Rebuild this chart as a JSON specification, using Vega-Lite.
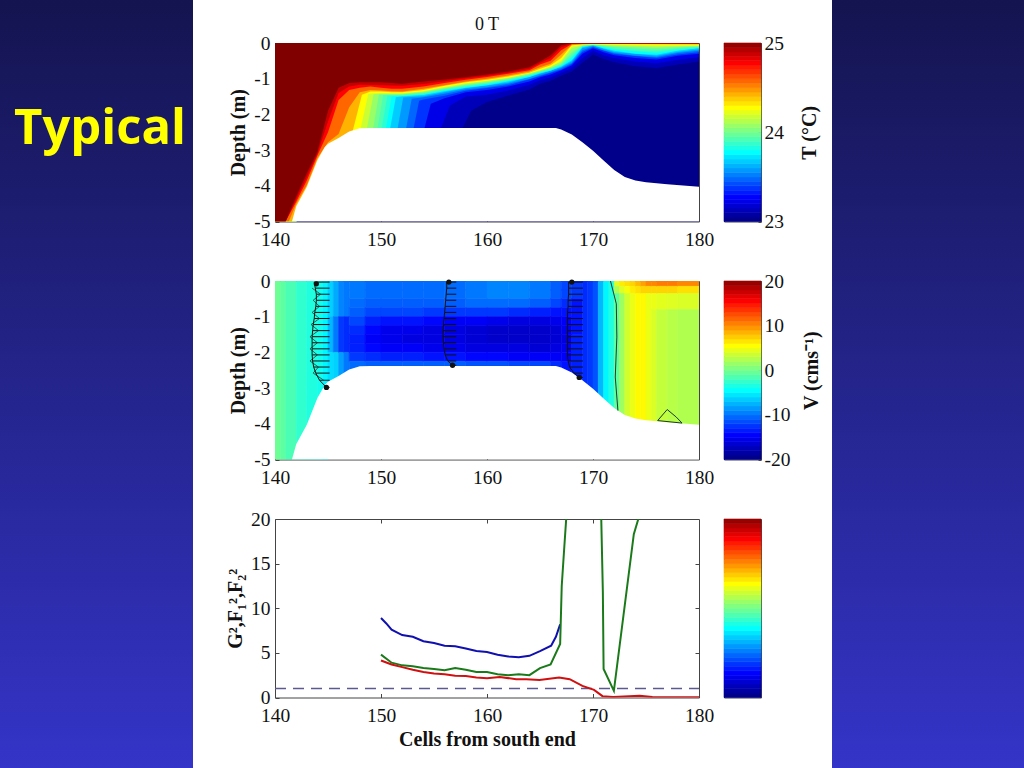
{"$schema":"https://vega.github.io/schema/vega-lite/v6.json","padding":0,"background":"white","spacing":0,
"config":{"view":{"stroke":null},"axis":{"grid":false,"labelFont":"Liberation Serif","labelFontSize":19.5,"labelColor":"#111","labelFlush":false,"labelOverlap":false,"titleFont":"Liberation Serif","titleFontSize":20,"titleFontWeight":"bold","titleColor":"#111","tickColor":"#444","domainColor":"#444","tickSize":-4,"labelPadding":9,"zindex":1},"title":{"font":"Liberation Serif","fontWeight":"normal","fontSize":18,"color":"#111"}},
"datasets":{
"contours":[
{"c":140,"L":23.1,"z":-5},{"c":142,"L":23.1,"z":-5},{"c":157.5,"L":23.1,"z":-2.5},{"c":158.5,"L":23.1,"z":-1.9},{"c":160,"L":23.1,"z":-1.65},{"c":162,"L":23.1,"z":-1.47},{"c":164,"L":23.1,"z":-1.3},{"c":165,"L":23.1,"z":-1.14},{"c":166,"L":23.1,"z":-1.06},{"c":167,"L":23.1,"z":-0.92},{"c":168,"L":23.1,"z":-0.8},{"c":169,"L":23.1,"z":-0.55},{"c":170,"L":23.1,"z":-0.32},{"c":171,"L":23.1,"z":-0.45},{"c":172,"L":23.1,"z":-0.54},{"c":174,"L":23.1,"z":-0.65},{"c":176,"L":23.1,"z":-0.7},{"c":178,"L":23.1,"z":-0.6},{"c":180,"L":23.1,"z":-0.52},
{"c":140,"L":23.2,"z":-5},{"c":142,"L":23.2,"z":-5},{"c":155.5,"L":23.2,"z":-2.5},{"c":156.5,"L":23.2,"z":-1.75},{"c":158,"L":23.2,"z":-1.5},{"c":160,"L":23.2,"z":-1.45},{"c":162,"L":23.2,"z":-1.33},{"c":164,"L":23.2,"z":-1.17},{"c":165,"L":23.2,"z":-1.04},{"c":166,"L":23.2,"z":-0.96},{"c":167,"L":23.2,"z":-0.83},{"c":168,"L":23.2,"z":-0.7},{"c":169,"L":23.2,"z":-0.42},{"c":170,"L":23.2,"z":-0.22},{"c":171,"L":23.2,"z":-0.34},{"c":172,"L":23.2,"z":-0.42},{"c":174,"L":23.2,"z":-0.52},{"c":176,"L":23.2,"z":-0.57},{"c":178,"L":23.2,"z":-0.47},{"c":180,"L":23.2,"z":-0.4},
{"c":140,"L":23.35,"z":-5},{"c":142,"L":23.35,"z":-5},{"c":154,"L":23.35,"z":-2.5},{"c":154.7,"L":23.35,"z":-1.7},{"c":156,"L":23.35,"z":-1.55},{"c":158,"L":23.35,"z":-1.38},{"c":160,"L":23.35,"z":-1.32},{"c":162,"L":23.35,"z":-1.22},{"c":164,"L":23.35,"z":-1.08},{"c":165,"L":23.35,"z":-0.96},{"c":166,"L":23.35,"z":-0.88},{"c":167,"L":23.35,"z":-0.76},{"c":168,"L":23.35,"z":-0.62},{"c":169,"L":23.35,"z":-0.3},{"c":170,"L":23.35,"z":-0.15},{"c":171,"L":23.35,"z":-0.26},{"c":172,"L":23.35,"z":-0.34},{"c":174,"L":23.35,"z":-0.42},{"c":176,"L":23.35,"z":-0.46},{"c":178,"L":23.35,"z":-0.36},{"c":180,"L":23.35,"z":-0.3},
{"c":140,"L":23.45,"z":-5},{"c":142,"L":23.45,"z":-5},{"c":153,"L":23.45,"z":-2.5},{"c":153.6,"L":23.45,"z":-1.62},{"c":154,"L":23.45,"z":-1.58},{"c":156,"L":23.45,"z":-1.48},{"c":158,"L":23.45,"z":-1.34},{"c":162,"L":23.45,"z":-1.18},{"c":165,"L":23.45,"z":-0.93},{"c":167,"L":23.45,"z":-0.74},{"c":168,"L":23.45,"z":-0.59},{"c":169,"L":23.45,"z":-0.25},{"c":170,"L":23.45,"z":-0.12},{"c":172,"L":23.45,"z":-0.31},{"c":176,"L":23.45,"z":-0.42},{"c":178,"L":23.45,"z":-0.32},{"c":180,"L":23.45,"z":-0.26},
{"c":140,"L":23.55,"z":-5},{"c":142,"L":23.55,"z":-5},{"c":152.3,"L":23.55,"z":-2.5},{"c":152.9,"L":23.55,"z":-1.56},{"c":154,"L":23.55,"z":-1.52},{"c":156,"L":23.55,"z":-1.42},{"c":158,"L":23.55,"z":-1.3},{"c":160,"L":23.55,"z":-1.24},{"c":162,"L":23.55,"z":-1.14},{"c":164,"L":23.55,"z":-1.01},{"c":165,"L":23.55,"z":-0.9},{"c":166,"L":23.55,"z":-0.82},{"c":167,"L":23.55,"z":-0.71},{"c":168,"L":23.55,"z":-0.56},{"c":169,"L":23.55,"z":-0.2},{"c":170,"L":23.55,"z":-0.1},{"c":171,"L":23.55,"z":-0.2},{"c":172,"L":23.55,"z":-0.28},{"c":174,"L":23.55,"z":-0.36},{"c":176,"L":23.55,"z":-0.39},{"c":178,"L":23.55,"z":-0.28},{"c":180,"L":23.55,"z":-0.22},
{"c":140,"L":23.65,"z":-5},{"c":142,"L":23.65,"z":-5},{"c":151.5,"L":23.65,"z":-2.5},{"c":152.1,"L":23.65,"z":-1.53},{"c":154,"L":23.65,"z":-1.49},{"c":156,"L":23.65,"z":-1.38},{"c":158,"L":23.65,"z":-1.27},{"c":162,"L":23.65,"z":-1.11},{"c":165,"L":23.65,"z":-0.87},{"c":167,"L":23.65,"z":-0.68},{"c":168,"L":23.65,"z":-0.52},{"c":169,"L":23.65,"z":-0.15},{"c":170,"L":23.65,"z":-0.08},{"c":172,"L":23.65,"z":-0.25},{"c":176,"L":23.65,"z":-0.36},{"c":178,"L":23.65,"z":-0.25},{"c":180,"L":23.65,"z":-0.18},
{"c":140,"L":23.75,"z":-5},{"c":142,"L":23.75,"z":-5},{"c":150.8,"L":23.75,"z":-2.5},{"c":151.4,"L":23.75,"z":-1.52},{"c":152,"L":23.75,"z":-1.5},{"c":154,"L":23.75,"z":-1.46},{"c":156,"L":23.75,"z":-1.35},{"c":158,"L":23.75,"z":-1.25},{"c":160,"L":23.75,"z":-1.18},{"c":162,"L":23.75,"z":-1.08},{"c":164,"L":23.75,"z":-0.95},{"c":165,"L":23.75,"z":-0.85},{"c":166,"L":23.75,"z":-0.78},{"c":167,"L":23.75,"z":-0.66},{"c":168,"L":23.75,"z":-0.48},{"c":169,"L":23.75,"z":-0.12},{"c":170,"L":23.75,"z":-0.06},{"c":171,"L":23.75,"z":-0.15},{"c":172,"L":23.75,"z":-0.22},{"c":174,"L":23.75,"z":-0.3},{"c":176,"L":23.75,"z":-0.33},{"c":178,"L":23.75,"z":-0.22},{"c":180,"L":23.75,"z":-0.15},
{"c":140,"L":23.83,"z":-5},{"c":142,"L":23.83,"z":-5},{"c":150.4,"L":23.83,"z":-2.5},{"c":151,"L":23.83,"z":-1.5},{"c":154,"L":23.83,"z":-1.44},{"c":156,"L":23.83,"z":-1.33},{"c":158,"L":23.83,"z":-1.23},{"c":162,"L":23.83,"z":-1.06},{"c":165,"L":23.83,"z":-0.83},{"c":167,"L":23.83,"z":-0.64},{"c":168,"L":23.83,"z":-0.43},{"c":169,"L":23.83,"z":-0.1},{"c":170,"L":23.83,"z":-0.055},{"c":172,"L":23.83,"z":-0.19},{"c":176,"L":23.83,"z":-0.28},{"c":178,"L":23.83,"z":-0.2},{"c":180,"L":23.83,"z":-0.13},
{"c":140,"L":23.9,"z":-5},{"c":142,"L":23.9,"z":-5},{"c":150,"L":23.9,"z":-2.5},{"c":150.6,"L":23.9,"z":-1.48},{"c":152,"L":23.9,"z":-1.48},{"c":154,"L":23.9,"z":-1.42},{"c":156,"L":23.9,"z":-1.31},{"c":158,"L":23.9,"z":-1.21},{"c":160,"L":23.9,"z":-1.14},{"c":162,"L":23.9,"z":-1.04},{"c":164,"L":23.9,"z":-0.92},{"c":165,"L":23.9,"z":-0.82},{"c":166,"L":23.9,"z":-0.75},{"c":167,"L":23.9,"z":-0.62},{"c":168,"L":23.9,"z":-0.38},{"c":169,"L":23.9,"z":-0.09},{"c":170,"L":23.9,"z":-0.05},{"c":172,"L":23.9,"z":-0.16},{"c":174,"L":23.9,"z":-0.22},{"c":176,"L":23.9,"z":-0.24},{"c":178,"L":23.9,"z":-0.17},{"c":180,"L":23.9,"z":-0.12},
{"c":140,"L":23.97,"z":-5},{"c":142,"L":23.97,"z":-5},{"c":149.6,"L":23.97,"z":-2.5},{"c":150.2,"L":23.97,"z":-1.46},{"c":154,"L":23.97,"z":-1.4},{"c":156,"L":23.97,"z":-1.29},{"c":158,"L":23.97,"z":-1.19},{"c":162,"L":23.97,"z":-1.02},{"c":165,"L":23.97,"z":-0.8},{"c":167,"L":23.97,"z":-0.6},{"c":168,"L":23.97,"z":-0.31},{"c":169,"L":23.97,"z":-0.08},{"c":170,"L":23.97,"z":-0.045},{"c":172,"L":23.97,"z":-0.12},{"c":176,"L":23.97,"z":-0.19},{"c":178,"L":23.97,"z":-0.14},{"c":180,"L":23.97,"z":-0.1},
{"c":140,"L":24.05,"z":-5},{"c":142,"L":24.05,"z":-5},{"c":149.2,"L":24.05,"z":-2.5},{"c":149.8,"L":24.05,"z":-1.44},{"c":151,"L":24.05,"z":-1.44},{"c":152,"L":24.05,"z":-1.44},{"c":154,"L":24.05,"z":-1.38},{"c":156,"L":24.05,"z":-1.27},{"c":158,"L":24.05,"z":-1.17},{"c":160,"L":24.05,"z":-1.1},{"c":162,"L":24.05,"z":-1},{"c":164,"L":24.05,"z":-0.88},{"c":165,"L":24.05,"z":-0.79},{"c":166,"L":24.05,"z":-0.71},{"c":167,"L":24.05,"z":-0.57},{"c":168,"L":24.05,"z":-0.25},{"c":169,"L":24.05,"z":-0.07},{"c":170,"L":24.05,"z":-0.04},{"c":172,"L":24.05,"z":-0.09},{"c":174,"L":24.05,"z":-0.12},{"c":176,"L":24.05,"z":-0.14},{"c":178,"L":24.05,"z":-0.11},{"c":180,"L":24.05,"z":-0.09},
{"c":140,"L":24.15,"z":-5},{"c":142,"L":24.15,"z":-5},{"c":148.6,"L":24.15,"z":-2.5},{"c":149.3,"L":24.15,"z":-1.43},{"c":152,"L":24.15,"z":-1.42},{"c":154,"L":24.15,"z":-1.36},{"c":156,"L":24.15,"z":-1.25},{"c":158,"L":24.15,"z":-1.15},{"c":162,"L":24.15,"z":-0.98},{"c":165,"L":24.15,"z":-0.77},{"c":167,"L":24.15,"z":-0.53},{"c":168,"L":24.15,"z":-0.15},{"c":169,"L":24.15,"z":-0.06},{"c":170,"L":24.15,"z":-0.04},{"c":172,"L":24.15,"z":-0.07},{"c":176,"L":24.15,"z":-0.1},{"c":180,"L":24.15,"z":-0.08},
{"c":140,"L":24.25,"z":-5},{"c":142,"L":24.25,"z":-5},{"c":148,"L":24.25,"z":-2.5},{"c":148.8,"L":24.25,"z":-1.42},{"c":150,"L":24.25,"z":-1.4},{"c":151,"L":24.25,"z":-1.41},{"c":152,"L":24.25,"z":-1.41},{"c":154,"L":24.25,"z":-1.35},{"c":156,"L":24.25,"z":-1.23},{"c":158,"L":24.25,"z":-1.13},{"c":160,"L":24.25,"z":-1.06},{"c":162,"L":24.25,"z":-0.97},{"c":164,"L":24.25,"z":-0.85},{"c":165,"L":24.25,"z":-0.76},{"c":166,"L":24.25,"z":-0.67},{"c":167,"L":24.25,"z":-0.5},{"c":168,"L":24.25,"z":-0.1},{"c":169,"L":24.25,"z":-0.05},{"c":170,"L":24.25,"z":-0.035},{"c":172,"L":24.25,"z":-0.05},{"c":174,"L":24.25,"z":-0.06},{"c":176,"L":24.25,"z":-0.07},{"c":178,"L":24.25,"z":-0.07},{"c":180,"L":24.25,"z":-0.07},
{"c":140,"L":24.4,"z":-5},{"c":142,"L":24.4,"z":-5},{"c":147.3,"L":24.4,"z":-2.5},{"c":148.2,"L":24.4,"z":-1.45},{"c":149,"L":24.4,"z":-1.36},{"c":150,"L":24.4,"z":-1.36},{"c":151,"L":24.4,"z":-1.38},{"c":152,"L":24.4,"z":-1.38},{"c":154,"L":24.4,"z":-1.32},{"c":156,"L":24.4,"z":-1.2},{"c":158,"L":24.4,"z":-1.1},{"c":160,"L":24.4,"z":-1.03},{"c":162,"L":24.4,"z":-0.94},{"c":164,"L":24.4,"z":-0.83},{"c":165,"L":24.4,"z":-0.72},{"c":166,"L":24.4,"z":-0.62},{"c":167,"L":24.4,"z":-0.42},{"c":168,"L":24.4,"z":-0.06},{"c":169,"L":24.4,"z":-0.04},{"c":170,"L":24.4,"z":-0.03},{"c":180,"L":24.4,"z":-0.04},
{"c":140,"L":24.55,"z":-5},{"c":141.3,"L":24.55,"z":-5},{"c":142,"L":24.55,"z":-4.5},{"c":143,"L":24.55,"z":-3.98},{"c":144,"L":24.55,"z":-3.22},{"c":145,"L":24.55,"z":-2.78},{"c":146,"L":24.55,"z":-2.55},{"c":147,"L":24.55,"z":-1.8},{"c":148,"L":24.55,"z":-1.38},{"c":149,"L":24.55,"z":-1.32},{"c":150,"L":24.55,"z":-1.33},{"c":151,"L":24.55,"z":-1.35},{"c":152,"L":24.55,"z":-1.36},{"c":154,"L":24.55,"z":-1.28},{"c":156,"L":24.55,"z":-1.18},{"c":158,"L":24.55,"z":-1.08},{"c":160,"L":24.55,"z":-1},{"c":162,"L":24.55,"z":-0.91},{"c":164,"L":24.55,"z":-0.8},{"c":165,"L":24.55,"z":-0.68},{"c":166,"L":24.55,"z":-0.58},{"c":167,"L":24.55,"z":-0.32},{"c":168,"L":24.55,"z":-0.05},{"c":169,"L":24.55,"z":-0.03},{"c":180,"L":24.55,"z":-0.03},
{"c":140,"L":24.75,"z":-5},{"c":141,"L":24.75,"z":-5},{"c":142,"L":24.75,"z":-4.45},{"c":143,"L":24.75,"z":-3.85},{"c":144,"L":24.75,"z":-3.15},{"c":145,"L":24.75,"z":-2.5},{"c":146,"L":24.75,"z":-1.6},{"c":147,"L":24.75,"z":-1.32},{"c":148,"L":24.75,"z":-1.25},{"c":149,"L":24.75,"z":-1.22},{"c":150,"L":24.75,"z":-1.25},{"c":151,"L":24.75,"z":-1.28},{"c":152,"L":24.75,"z":-1.28},{"c":154,"L":24.75,"z":-1.22},{"c":156,"L":24.75,"z":-1.12},{"c":158,"L":24.75,"z":-1.03},{"c":160,"L":24.75,"z":-0.95},{"c":162,"L":24.75,"z":-0.86},{"c":164,"L":24.75,"z":-0.76},{"c":165,"L":24.75,"z":-0.6},{"c":166,"L":24.75,"z":-0.5},{"c":167,"L":24.75,"z":-0.2},{"c":168,"L":24.75,"z":-0.03},{"c":169,"L":24.75,"z":-0.02},{"c":180,"L":24.75,"z":-0.02},
{"c":140,"L":24.87,"z":-5},{"c":141,"L":24.87,"z":-5},{"c":142,"L":24.87,"z":-4.37},{"c":143,"L":24.87,"z":-3.75},{"c":144,"L":24.87,"z":-3.1},{"c":145,"L":24.87,"z":-2.2},{"c":146,"L":24.87,"z":-1.4},{"c":147,"L":24.87,"z":-1.22},{"c":148,"L":24.87,"z":-1.17},{"c":150,"L":24.87,"z":-1.18},{"c":152,"L":24.87,"z":-1.2},{"c":154,"L":24.87,"z":-1.15},{"c":156,"L":24.87,"z":-1.07},{"c":158,"L":24.87,"z":-0.99},{"c":160,"L":24.87,"z":-0.92},{"c":162,"L":24.87,"z":-0.83},{"c":164,"L":24.87,"z":-0.72},{"c":165,"L":24.87,"z":-0.56},{"c":166,"L":24.87,"z":-0.42},{"c":167,"L":24.87,"z":-0.12},{"c":168,"L":24.87,"z":-0.02},{"c":180,"L":24.87,"z":-0.015},
{"c":140,"L":25,"z":-5},{"c":141,"L":25,"z":-5},{"c":142,"L":25,"z":-4.3},{"c":143,"L":25,"z":-3.65},{"c":144,"L":25,"z":-3.05},{"c":145,"L":25,"z":-1.9},{"c":146,"L":25,"z":-1.25},{"c":147,"L":25,"z":-1.12},{"c":148,"L":25,"z":-1.1},{"c":150,"L":25,"z":-1.1},{"c":152,"L":25,"z":-1.14},{"c":154,"L":25,"z":-1.08},{"c":156,"L":25,"z":-1.02},{"c":158,"L":25,"z":-0.96},{"c":160,"L":25,"z":-0.88},{"c":162,"L":25,"z":-0.8},{"c":164,"L":25,"z":-0.68},{"c":165,"L":25,"z":-0.52},{"c":166,"L":25,"z":-0.34},{"c":167,"L":25,"z":-0.06},{"c":168,"L":25,"z":-0.01},{"c":180,"L":25,"z":-0.01}
],
"bed":[{"c":141.6,"z":-5},{"c":142,"z":-4.57},{"c":143,"z":-4.03},{"c":144,"z":-3.28},{"c":144.7,"z":-2.91},{"c":145,"z":-2.82},{"c":146,"z":-2.66},{"c":147,"z":-2.48},{"c":148,"z":-2.39},{"c":149,"z":-2.38},{"c":166.5,"z":-2.38},{"c":167,"z":-2.42},{"c":168,"z":-2.56},{"c":169,"z":-2.78},{"c":170,"z":-3.02},{"c":171,"z":-3.29},{"c":172,"z":-3.56},{"c":173,"z":-3.75},{"c":174,"z":-3.85},{"c":175,"z":-3.9},{"c":177,"z":-3.96},{"c":180,"z":-4.03}],
"vgrid":[
{"c":140,"c2":140.5,"z":0,"z2":-5,"v":-1.5},{"c":140.5,"c2":141,"z":0,"z2":-5,"v":-2},{"c":141,"c2":142,"z":0,"z2":-5,"v":-2.8},{"c":142,"c2":143,"z":0,"z2":-5,"v":-3.8},{"c":143,"c2":144,"z":0,"z2":-5,"v":-4.5},{"c":144,"c2":144.5,"z":0,"z2":-5,"v":-5},{"c":144.5,"c2":145,"z":0,"z2":-5,"v":-6},
{"c":145,"c2":145.5,"z":0,"z2":-1,"v":-7.5},{"c":145,"c2":145.5,"z":-1,"z2":-2,"v":-8.5},{"c":145,"c2":145.5,"z":-2,"z2":-3,"v":-7},
{"c":145.5,"c2":146,"z":0,"z2":-1,"v":-9},{"c":145.5,"c2":146,"z":-1,"z2":-2,"v":-11},{"c":145.5,"c2":146,"z":-2,"z2":-3,"v":-7.5},
{"c":146,"c2":146.5,"z":0,"z2":-1,"v":-10.5},{"c":146,"c2":146.5,"z":-1,"z2":-2,"v":-13.5},{"c":146,"c2":146.5,"z":-2,"z2":-3,"v":-9.5},
{"c":146.5,"c2":147,"z":0,"z2":-1,"v":-11},{"c":146.5,"c2":147,"z":-1,"z2":-2,"v":-14},{"c":146.5,"c2":147,"z":-2,"z2":-3,"v":-11},
{"c":147,"c2":148.5,"z":0,"z2":-0.25,"v":-11},{"c":147,"c2":148.5,"z":-0.25,"z2":-0.5,"v":-11},{"c":147,"c2":148.5,"z":-0.5,"z2":-0.75,"v":-11.5},{"c":147,"c2":148.5,"z":-0.75,"z2":-1,"v":-12},{"c":147,"c2":148.5,"z":-1,"z2":-1.25,"v":-13},{"c":147,"c2":148.5,"z":-1.25,"z2":-1.5,"v":-14},{"c":147,"c2":148.5,"z":-1.5,"z2":-1.75,"v":-14.5},{"c":147,"c2":148.5,"z":-1.75,"z2":-2,"v":-14.5},{"c":147,"c2":148.5,"z":-2,"z2":-2.25,"v":-13.5},{"c":147,"c2":148.5,"z":-2.25,"z2":-2.6,"v":-11.5},
{"c":148.5,"c2":150,"z":0,"z2":-0.25,"v":-11.5},{"c":148.5,"c2":150,"z":-0.25,"z2":-0.5,"v":-11.5},{"c":148.5,"c2":150,"z":-0.5,"z2":-0.75,"v":-12},{"c":148.5,"c2":150,"z":-0.75,"z2":-1,"v":-13},{"c":148.5,"c2":150,"z":-1,"z2":-1.25,"v":-14.5},{"c":148.5,"c2":150,"z":-1.25,"z2":-1.5,"v":-15.5},{"c":148.5,"c2":150,"z":-1.5,"z2":-1.75,"v":-16},{"c":148.5,"c2":150,"z":-1.75,"z2":-2,"v":-15.5},{"c":148.5,"c2":150,"z":-2,"z2":-2.25,"v":-14},{"c":148.5,"c2":150,"z":-2.25,"z2":-2.6,"v":-12},
{"c":150,"c2":152,"z":0,"z2":-0.25,"v":-11.5},{"c":150,"c2":152,"z":-0.25,"z2":-0.5,"v":-11.5},{"c":150,"c2":152,"z":-0.5,"z2":-0.75,"v":-12},{"c":150,"c2":152,"z":-0.75,"z2":-1,"v":-13},{"c":150,"c2":152,"z":-1,"z2":-1.25,"v":-15},{"c":150,"c2":152,"z":-1.25,"z2":-1.5,"v":-16.5},{"c":150,"c2":152,"z":-1.5,"z2":-1.75,"v":-16.5},{"c":150,"c2":152,"z":-1.75,"z2":-2,"v":-16},{"c":150,"c2":152,"z":-2,"z2":-2.25,"v":-14.5},{"c":150,"c2":152,"z":-2.25,"z2":-2.6,"v":-12},
{"c":152,"c2":154,"z":0,"z2":-0.25,"v":-11.5},{"c":152,"c2":154,"z":-0.25,"z2":-0.5,"v":-11.5},{"c":152,"c2":154,"z":-0.5,"z2":-0.75,"v":-12},{"c":152,"c2":154,"z":-0.75,"z2":-1,"v":-13},{"c":152,"c2":154,"z":-1,"z2":-1.25,"v":-15},{"c":152,"c2":154,"z":-1.25,"z2":-1.5,"v":-16.5},{"c":152,"c2":154,"z":-1.5,"z2":-1.75,"v":-17},{"c":152,"c2":154,"z":-1.75,"z2":-2,"v":-16},{"c":152,"c2":154,"z":-2,"z2":-2.25,"v":-14.5},{"c":152,"c2":154,"z":-2.25,"z2":-2.6,"v":-12},
{"c":154,"c2":156,"z":0,"z2":-0.25,"v":-11.5},{"c":154,"c2":156,"z":-0.25,"z2":-0.5,"v":-11.5},{"c":154,"c2":156,"z":-0.5,"z2":-0.75,"v":-12},{"c":154,"c2":156,"z":-0.75,"z2":-1,"v":-13.5},{"c":154,"c2":156,"z":-1,"z2":-1.25,"v":-15.5},{"c":154,"c2":156,"z":-1.25,"z2":-1.5,"v":-17},{"c":154,"c2":156,"z":-1.5,"z2":-1.75,"v":-17},{"c":154,"c2":156,"z":-1.75,"z2":-2,"v":-16.5},{"c":154,"c2":156,"z":-2,"z2":-2.25,"v":-15},{"c":154,"c2":156,"z":-2.25,"z2":-2.6,"v":-12},
{"c":156,"c2":158,"z":0,"z2":-0.25,"v":-11.5},{"c":156,"c2":158,"z":-0.25,"z2":-0.5,"v":-11.5},{"c":156,"c2":158,"z":-0.5,"z2":-0.75,"v":-12},{"c":156,"c2":158,"z":-0.75,"z2":-1,"v":-13.5},{"c":156,"c2":158,"z":-1,"z2":-1.25,"v":-16},{"c":156,"c2":158,"z":-1.25,"z2":-1.5,"v":-17},{"c":156,"c2":158,"z":-1.5,"z2":-1.75,"v":-17},{"c":156,"c2":158,"z":-1.75,"z2":-2,"v":-16.5},{"c":156,"c2":158,"z":-2,"z2":-2.25,"v":-15},{"c":156,"c2":158,"z":-2.25,"z2":-2.6,"v":-12},
{"c":158,"c2":160,"z":0,"z2":-0.25,"v":-11},{"c":158,"c2":160,"z":-0.25,"z2":-0.5,"v":-11},{"c":158,"c2":160,"z":-0.5,"z2":-0.75,"v":-11.5},{"c":158,"c2":160,"z":-0.75,"z2":-1,"v":-13.5},{"c":158,"c2":160,"z":-1,"z2":-1.25,"v":-16},{"c":158,"c2":160,"z":-1.25,"z2":-1.5,"v":-17.5},{"c":158,"c2":160,"z":-1.5,"z2":-1.75,"v":-17.5},{"c":158,"c2":160,"z":-1.75,"z2":-2,"v":-17},{"c":158,"c2":160,"z":-2,"z2":-2.25,"v":-15.5},{"c":158,"c2":160,"z":-2.25,"z2":-2.6,"v":-12.5},
{"c":160,"c2":162,"z":0,"z2":-0.25,"v":-10.5},{"c":160,"c2":162,"z":-0.25,"z2":-0.5,"v":-10.5},{"c":160,"c2":162,"z":-0.5,"z2":-0.75,"v":-11.5},{"c":160,"c2":162,"z":-0.75,"z2":-1,"v":-13.5},{"c":160,"c2":162,"z":-1,"z2":-1.25,"v":-16.5},{"c":160,"c2":162,"z":-1.25,"z2":-1.5,"v":-18},{"c":160,"c2":162,"z":-1.5,"z2":-1.75,"v":-18},{"c":160,"c2":162,"z":-1.75,"z2":-2,"v":-17},{"c":160,"c2":162,"z":-2,"z2":-2.25,"v":-15.5},{"c":160,"c2":162,"z":-2.25,"z2":-2.6,"v":-12.5},
{"c":162,"c2":164,"z":0,"z2":-0.25,"v":-10.5},{"c":162,"c2":164,"z":-0.25,"z2":-0.5,"v":-10.5},{"c":162,"c2":164,"z":-0.5,"z2":-0.75,"v":-11.5},{"c":162,"c2":164,"z":-0.75,"z2":-1,"v":-14},{"c":162,"c2":164,"z":-1,"z2":-1.25,"v":-17},{"c":162,"c2":164,"z":-1.25,"z2":-1.5,"v":-18},{"c":162,"c2":164,"z":-1.5,"z2":-1.75,"v":-18},{"c":162,"c2":164,"z":-1.75,"z2":-2,"v":-17},{"c":162,"c2":164,"z":-2,"z2":-2.25,"v":-16},{"c":162,"c2":164,"z":-2.25,"z2":-2.6,"v":-13},
{"c":164,"c2":166,"z":0,"z2":-0.25,"v":-11},{"c":164,"c2":166,"z":-0.25,"z2":-0.5,"v":-11},{"c":164,"c2":166,"z":-0.5,"z2":-0.75,"v":-12},{"c":164,"c2":166,"z":-0.75,"z2":-1,"v":-14.5},{"c":164,"c2":166,"z":-1,"z2":-1.25,"v":-17},{"c":164,"c2":166,"z":-1.25,"z2":-1.5,"v":-18},{"c":164,"c2":166,"z":-1.5,"z2":-1.75,"v":-18},{"c":164,"c2":166,"z":-1.75,"z2":-2,"v":-17.5},{"c":164,"c2":166,"z":-2,"z2":-2.25,"v":-16},{"c":164,"c2":166,"z":-2.25,"z2":-2.6,"v":-13},
{"c":166,"c2":167,"z":0,"z2":-0.25,"v":-12},{"c":166,"c2":167,"z":-0.25,"z2":-0.5,"v":-12},{"c":166,"c2":167,"z":-0.5,"z2":-0.75,"v":-13},{"c":166,"c2":167,"z":-0.75,"z2":-1,"v":-15},{"c":166,"c2":167,"z":-1,"z2":-1.25,"v":-16.5},{"c":166,"c2":167,"z":-1.25,"z2":-1.5,"v":-17.5},{"c":166,"c2":167,"z":-1.5,"z2":-1.75,"v":-17.5},{"c":166,"c2":167,"z":-1.75,"z2":-2,"v":-17},{"c":166,"c2":167,"z":-2,"z2":-2.25,"v":-16},{"c":166,"c2":167,"z":-2.25,"z2":-2.7,"v":-14},
{"c":167,"c2":168,"z":0,"z2":-0.25,"v":-13},{"c":167,"c2":168,"z":-0.25,"z2":-0.5,"v":-13},{"c":167,"c2":168,"z":-0.5,"z2":-0.75,"v":-14},{"c":167,"c2":168,"z":-0.75,"z2":-1,"v":-15},{"c":167,"c2":168,"z":-1,"z2":-1.25,"v":-16},{"c":167,"c2":168,"z":-1.25,"z2":-1.5,"v":-16.5},{"c":167,"c2":168,"z":-1.5,"z2":-1.75,"v":-17},{"c":167,"c2":168,"z":-1.75,"z2":-2,"v":-16.5},{"c":167,"c2":168,"z":-2,"z2":-2.25,"v":-16},{"c":167,"c2":168,"z":-2.25,"z2":-2.8,"v":-15},
{"c":168,"c2":169,"z":0,"z2":-0.5,"v":-13.5},{"c":168,"c2":169,"z":-0.5,"z2":-1.5,"v":-15},{"c":168,"c2":169,"z":-1.5,"z2":-3.5,"v":-14.5},
{"c":169,"c2":169.5,"z":0,"z2":-4.5,"v":-14},{"c":169.5,"c2":170,"z":0,"z2":-4.5,"v":-13.5},{"c":170,"c2":170.5,"z":0,"z2":-4.5,"v":-12.5},{"c":170.5,"c2":171,"z":0,"z2":-4.5,"v":-8.5},{"c":171,"c2":171.5,"z":0,"z2":-4.5,"v":-6},{"c":171.5,"c2":172,"z":0,"z2":-4.5,"v":-4.5},
{"c":172,"c2":172.5,"z":0,"z2":-0.15,"v":3},{"c":172,"c2":172.5,"z":-0.15,"z2":-0.35,"v":1},{"c":172,"c2":172.5,"z":-0.35,"z2":-4.5,"v":-2},
{"c":172.5,"c2":173,"z":0,"z2":-0.15,"v":5},{"c":172.5,"c2":173,"z":-0.15,"z2":-0.35,"v":3},{"c":172.5,"c2":173,"z":-0.35,"z2":-4.5,"v":0.5},
{"c":173,"c2":173.5,"z":0,"z2":-0.15,"v":5.5},{"c":173,"c2":173.5,"z":-0.15,"z2":-0.35,"v":4},{"c":173,"c2":173.5,"z":-0.35,"z2":-4.5,"v":2.5},
{"c":173.5,"c2":174,"z":0,"z2":-0.15,"v":6},{"c":173.5,"c2":174,"z":-0.15,"z2":-0.35,"v":5},{"c":173.5,"c2":174,"z":-0.35,"z2":-4.5,"v":3.5},
{"c":174,"c2":174.5,"z":0,"z2":-0.15,"v":7},{"c":174,"c2":174.5,"z":-0.15,"z2":-0.35,"v":5.5},{"c":174,"c2":174.5,"z":-0.35,"z2":-4.5,"v":4.5},
{"c":174.5,"c2":175,"z":0,"z2":-0.15,"v":8},{"c":174.5,"c2":175,"z":-0.15,"z2":-0.35,"v":6},{"c":174.5,"c2":175,"z":-0.35,"z2":-4.5,"v":4.5},
{"c":175,"c2":175.5,"z":0,"z2":-0.15,"v":9},{"c":175,"c2":175.5,"z":-0.15,"z2":-0.35,"v":6},{"c":175,"c2":175.5,"z":-0.35,"z2":-4.5,"v":3.5},
{"c":175.5,"c2":176,"z":0,"z2":-0.15,"v":9},{"c":175.5,"c2":176,"z":-0.15,"z2":-0.35,"v":6},{"c":175.5,"c2":176,"z":-0.35,"z2":-0.8,"v":3.5},{"c":175.5,"c2":176,"z":-0.8,"z2":-4.5,"v":2.8},
{"c":176,"c2":177,"z":0,"z2":-0.15,"v":9.5},{"c":176,"c2":177,"z":-0.15,"z2":-0.35,"v":6},{"c":176,"c2":177,"z":-0.35,"z2":-0.8,"v":3.2},{"c":176,"c2":177,"z":-0.8,"z2":-4.5,"v":2},
{"c":177,"c2":178,"z":0,"z2":-0.15,"v":9.5},{"c":177,"c2":178,"z":-0.15,"z2":-0.35,"v":6},{"c":177,"c2":178,"z":-0.35,"z2":-0.8,"v":3},{"c":177,"c2":178,"z":-0.8,"z2":-4.5,"v":1.5},
{"c":178,"c2":180,"z":0,"z2":-0.15,"v":9},{"c":178,"c2":180,"z":-0.15,"z2":-0.35,"v":5.5},{"c":178,"c2":180,"z":-0.35,"z2":-0.8,"v":2.8},{"c":178,"c2":180,"z":-0.8,"z2":-4.5,"v":1.2}
],
"stations":[
{"st":"a","c":143.7,"e":145.15,"z":-0.03},{"st":"a","c":143.8,"e":145.15,"z":-0.2},{"st":"a","c":143.9,"e":145.15,"z":-0.37},{"st":"a","c":143.9,"e":145.15,"z":-0.54},{"st":"a","c":143.85,"e":145.15,"z":-0.71},{"st":"a","c":143.75,"e":145.15,"z":-0.88},{"st":"a","c":143.7,"e":145.15,"z":-1.05},{"st":"a","c":143.6,"e":145.15,"z":-1.22},{"st":"a","c":143.55,"e":145.15,"z":-1.39},{"st":"a","c":143.5,"e":145.15,"z":-1.56},{"st":"a","c":143.5,"e":145.15,"z":-1.73},{"st":"a","c":143.5,"e":145.15,"z":-1.9},{"st":"a","c":143.5,"e":145.15,"z":-2.07},{"st":"a","c":143.55,"e":145.15,"z":-2.24},{"st":"a","c":143.65,"e":145.15,"z":-2.41},{"st":"a","c":143.85,"e":145.15,"z":-2.58},{"st":"a","c":144.2,"e":145.15,"z":-2.78},{"st":"a","c":144.85,"e":145.15,"z":-2.98},
{"st":"b","c":156.2,"e":157.1,"z":-0.03},{"st":"b","c":156.2,"e":157.1,"z":-0.2},{"st":"b","c":156.15,"e":157.1,"z":-0.37},{"st":"b","c":156.1,"e":157.1,"z":-0.54},{"st":"b","c":156.05,"e":157.1,"z":-0.71},{"st":"b","c":156,"e":157.1,"z":-0.88},{"st":"b","c":155.95,"e":157.1,"z":-1.05},{"st":"b","c":155.9,"e":157.1,"z":-1.22},{"st":"b","c":155.85,"e":157.1,"z":-1.39},{"st":"b","c":155.85,"e":157.1,"z":-1.56},{"st":"b","c":155.9,"e":157.1,"z":-1.73},{"st":"b","c":155.95,"e":157.1,"z":-1.9},{"st":"b","c":156.05,"e":157.1,"z":-2.07},{"st":"b","c":156.3,"e":157.1,"z":-2.24},{"st":"b","c":156.75,"e":157.1,"z":-2.36},
{"st":"d","c":167.7,"e":169.05,"z":-0.03},{"st":"d","c":167.7,"e":169.05,"z":-0.2},{"st":"d","c":167.7,"e":169.05,"z":-0.37},{"st":"d","c":167.65,"e":169.05,"z":-0.54},{"st":"d","c":167.65,"e":169.05,"z":-0.71},{"st":"d","c":167.6,"e":169.05,"z":-0.88},{"st":"d","c":167.6,"e":169.05,"z":-1.05},{"st":"d","c":167.6,"e":169.05,"z":-1.22},{"st":"d","c":167.6,"e":169.05,"z":-1.39},{"st":"d","c":167.6,"e":169.05,"z":-1.56},{"st":"d","c":167.6,"e":169.05,"z":-1.73},{"st":"d","c":167.6,"e":169.05,"z":-1.9},{"st":"d","c":167.6,"e":169.05,"z":-2.07},{"st":"d","c":167.65,"e":169.05,"z":-2.24},{"st":"d","c":167.8,"e":169.05,"z":-2.41},{"st":"d","c":168.2,"e":169.05,"z":-2.58},{"st":"d","c":168.7,"e":169.05,"z":-2.7}
],
"ends":[{"c":144.85,"z":-2.98},{"c":156.75,"z":-2.36},{"c":168.7,"z":-2.7},{"c":143.9,"z":-0.08},{"c":156.4,"z":-0.03},{"c":168,"z":-0.03}],
"zig":[{"c":143.5,"z":-0.2},{"c":144.3,"z":-0.37},{"c":143.6,"z":-0.54},{"c":144.2,"z":-0.71},{"c":143.5,"z":-0.88},{"c":144.2,"z":-1.05},{"c":143.4,"z":-1.22},{"c":144.1,"z":-1.39},{"c":143.3,"z":-1.56},{"c":144,"z":-1.73},{"c":143.3,"z":-1.9},{"c":144,"z":-2.07},{"c":143.3,"z":-2.24},{"c":144.1,"z":-2.41},{"c":143.6,"z":-2.58},{"c":144.6,"z":-2.78}],
"vlines":[
{"k":"a","o":1,"c":171.65,"z":0},{"k":"a","o":2,"c":172.2,"z":-0.64},{"k":"a","o":3,"c":172.25,"z":-1.57},{"k":"a","o":4,"c":172.1,"z":-2.69},{"k":"a","o":5,"c":172.35,"z":-3.63},
{"k":"b","o":1,"c":176.1,"z":-3.91},{"k":"b","o":2,"c":177,"z":-3.6},{"k":"b","o":3,"c":177.85,"z":-3.81},{"k":"b","o":4,"c":178.4,"z":-3.98},{"k":"b","o":5,"c":176.1,"z":-3.91}
],
"rampT":[{"v":23,"w":23.05},{"v":23.05,"w":23.1},{"v":23.1,"w":23.15},{"v":23.15,"w":23.2},{"v":23.2,"w":23.25},{"v":23.25,"w":23.3},{"v":23.3,"w":23.35},{"v":23.35,"w":23.4},{"v":23.4,"w":23.45},{"v":23.45,"w":23.5},{"v":23.5,"w":23.55},{"v":23.55,"w":23.6},{"v":23.6,"w":23.65},{"v":23.65,"w":23.7},{"v":23.7,"w":23.75},{"v":23.75,"w":23.8},{"v":23.8,"w":23.85},{"v":23.85,"w":23.9},{"v":23.9,"w":23.95},{"v":23.95,"w":24},{"v":24,"w":24.05},{"v":24.05,"w":24.1},{"v":24.1,"w":24.15},{"v":24.15,"w":24.2},{"v":24.2,"w":24.25},{"v":24.25,"w":24.3},{"v":24.3,"w":24.35},{"v":24.35,"w":24.4},{"v":24.4,"w":24.45},{"v":24.45,"w":24.5},{"v":24.5,"w":24.55},{"v":24.55,"w":24.6},{"v":24.6,"w":24.65},{"v":24.65,"w":24.7},{"v":24.7,"w":24.75},{"v":24.75,"w":24.8},{"v":24.8,"w":24.85},{"v":24.85,"w":24.9},{"v":24.9,"w":24.95},{"v":24.95,"w":25}],
"rampV":[{"v":-20,"w":-19},{"v":-19,"w":-18},{"v":-18,"w":-17},{"v":-17,"w":-16},{"v":-16,"w":-15},{"v":-15,"w":-14},{"v":-14,"w":-13},{"v":-13,"w":-12},{"v":-12,"w":-11},{"v":-11,"w":-10},{"v":-10,"w":-9},{"v":-9,"w":-8},{"v":-8,"w":-7},{"v":-7,"w":-6},{"v":-6,"w":-5},{"v":-5,"w":-4},{"v":-4,"w":-3},{"v":-3,"w":-2},{"v":-2,"w":-1},{"v":-1,"w":0},{"v":0,"w":1},{"v":1,"w":2},{"v":2,"w":3},{"v":3,"w":4},{"v":4,"w":5},{"v":5,"w":6},{"v":6,"w":7},{"v":7,"w":8},{"v":8,"w":9},{"v":9,"w":10},{"v":10,"w":11},{"v":11,"w":12},{"v":12,"w":13},{"v":13,"w":14},{"v":14,"w":15},{"v":15,"w":16},{"v":16,"w":17},{"v":17,"w":18},{"v":18,"w":19},{"v":19,"w":20}],
"series":[
{"s":"G","c":150,"y":8.9},{"s":"G","c":150.5,"y":8.3},{"s":"G","c":151,"y":7.6},{"s":"G","c":152,"y":7},{"s":"G","c":153,"y":6.8},{"s":"G","c":154,"y":6.3},{"s":"G","c":155,"y":6.1},{"s":"G","c":156,"y":5.8},{"s":"G","c":157,"y":5.75},{"s":"G","c":158,"y":5.5},{"s":"G","c":159,"y":5.2},{"s":"G","c":160,"y":5.1},{"s":"G","c":161,"y":4.8},{"s":"G","c":162,"y":4.6},{"s":"G","c":163,"y":4.5},{"s":"G","c":164,"y":4.67},{"s":"G","c":165,"y":5.2},{"s":"G","c":166.05,"y":5.8},{"s":"G","c":166.5,"y":6.8},{"s":"G","c":166.9,"y":8.2},
{"s":"F1","c":150,"y":4.8},{"s":"F1","c":151,"y":3.9},{"s":"F1","c":152,"y":3.6},{"s":"F1","c":153,"y":3.5},{"s":"F1","c":154,"y":3.3},{"s":"F1","c":155,"y":3.2},{"s":"F1","c":156,"y":3.05},{"s":"F1","c":157,"y":3.3},{"s":"F1","c":158,"y":3.1},{"s":"F1","c":159,"y":2.85},{"s":"F1","c":160,"y":2.85},{"s":"F1","c":161,"y":2.6},{"s":"F1","c":162,"y":2.5},{"s":"F1","c":163,"y":2.6},{"s":"F1","c":164,"y":2.5},{"s":"F1","c":165,"y":3.3},{"s":"F1","c":166,"y":3.7},{"s":"F1","c":166.9,"y":6},{"s":"F1","c":167.05,"y":12.5},{"s":"F1","c":167.3,"y":17},{"s":"F1","c":167.5,"y":20.5},{"s":"F1","c":170.77,"y":20.5},{"s":"F1","c":170.93,"y":11.8},{"s":"F1","c":171,"y":3.2},{"s":"F1","c":171.97,"y":0.75},{"s":"F1","c":173.85,"y":18.3},{"s":"F1","c":174.4,"y":20.5},
{"s":"F2","c":150,"y":4.15},{"s":"F2","c":151,"y":3.7},{"s":"F2","c":152,"y":3.4},{"s":"F2","c":153,"y":3.1},{"s":"F2","c":154,"y":2.85},{"s":"F2","c":155,"y":2.7},{"s":"F2","c":156,"y":2.6},{"s":"F2","c":157,"y":2.45},{"s":"F2","c":158,"y":2.4},{"s":"F2","c":159,"y":2.25},{"s":"F2","c":160,"y":2.15},{"s":"F2","c":161.2,"y":2.3},{"s":"F2","c":162.75,"y":2.05},{"s":"F2","c":163.7,"y":2.05},{"s":"F2","c":164.95,"y":1.95},{"s":"F2","c":166.8,"y":2.25},{"s":"F2","c":167.8,"y":2.05},{"s":"F2","c":169,"y":1.3},{"s":"F2","c":170.1,"y":0.85},{"s":"F2","c":170.9,"y":0.15},{"s":"F2","c":171.9,"y":0.07},{"s":"F2","c":174.4,"y":0.2},{"s":"F2","c":175.6,"y":0.05},{"s":"F2","c":180,"y":0.03}
]
},
"hconcat":[
{"width":225,"height":725,"data":{"values":[{"label":"Typical"}]},
"layer":[
{"mark":{"type":"rect","color":{"gradient":"linear","x1":0,"y1":0,"x2":0,"y2":1,"stops":[{"offset":0,"color":"#141450"},{"offset":1,"color":"#3434c8"}]}},
"encoding":{"x":{"datum":0,"type":"quantitative","scale":{"domain":[0,225],"nice":false},"axis":null},"x2":{"datum":193},"y":{"datum":0,"type":"quantitative","scale":{"domain":[43,768],"reverse":true,"nice":false,"zero":false},"axis":null},"y2":{"datum":768}}},
{"mark":{"type":"text","font":"Open Sans","fontWeight":"bold","fontSize":49,"color":"#ffff00","align":"center","baseline":"middle"},
"encoding":{"x":{"datum":100,"type":"quantitative","axis":null},"y":{"datum":129,"type":"quantitative","axis":null},"text":{"field":"label"}}}
]},
{"concat":[
{"width":424,"height":178.5,"title":{"text":"0 T","offset":-1},
"resolve":{"axis":{"x":"independent","y":"independent"}},
"layer":[
{"data":{"values":[{"c":140,"c2":180,"z":-5,"z2":0,"t":23}]},"mark":"rect","encoding":{
"x":{"field":"c","type":"quantitative","scale":{"domain":[140,180],"nice":false,"zero":false},"axis":{"values":[140,150,160,170,180],"title":null,"orient":"bottom","labelPadding":13}},"x2":{"field":"c2"},
"y":{"field":"z","type":"quantitative","scale":{"domain":[-5,0],"nice":false,"zero":false},"axis":{"values":[0,-1,-2,-3,-4,-5],"labelExpr":"datum.value+''","title":"Depth (m)","orient":"left","titlePadding":5}},"y2":{"field":"z2"},
"color":{"field":"t","type":"quantitative","legend":null,"scale":{"domain":[23,23.25,23.75,24.25,24.75,25],"range":["#00008b","#0000ff","#00ffff","#ffff00","#ff0000","#800000"],"interpolate":"rgb"}}}},
{"data":{"name":"contours"},"mark":{"type":"area","clip":true},"encoding":{
"x":{"field":"c","type":"quantitative","axis":null},"y":{"field":"z","type":"quantitative","axis":null},"y2":{"datum":0},"detail":{"field":"L"},
"color":{"field":"L","type":"quantitative","legend":null}}},
{"data":{"name":"bed"},"mark":{"type":"area","color":"white","clip":true},"encoding":{
"x":{"field":"c","type":"quantitative","axis":{"orient":"top","values":[150,160,170],"labels":false,"title":null}},
"y":{"field":"z","type":"quantitative","axis":{"orient":"right","values":[-1,-2,-3,-4],"labels":false,"title":null}},"y2":{"datum":-5}}}
]},
{"width":37,"height":178.5,"view":{"stroke":"#444"},"data":{"name":"rampT"},"mark":{"type":"rect","strokeWidth":0.6},"encoding":{
"x":{"datum":0,"type":"quantitative","scale":{"domain":[0,1],"nice":false},"axis":null},"x2":{"datum":1},
"y":{"field":"v","type":"quantitative","scale":{"domain":[23,25],"nice":false,"zero":false},"axis":{"orient":"right","values":[23,24,25],"labelExpr":"datum.value+''","title":"T (°C)","titleAngle":270,"titleBaseline":"top","tickSize":-3,"labelPadding":6,"titlePadding":16,"domain":false}},"y2":{"field":"w"},
"fill":{"field":"v","type":"quantitative","legend":null,"scale":{"domain":[23,23.25,23.75,24.25,24.75,25],"range":["#00008b","#0000ff","#00ffff","#ffff00","#ff0000","#800000"],"interpolate":"rgb"}},
"stroke":{"field":"v","type":"quantitative","legend":null,"scale":{"domain":[23,23.25,23.75,24.25,24.75,25],"range":["#00008b","#0000ff","#00ffff","#ffff00","#ff0000","#800000"],"interpolate":"rgb"}}}},
{"width":424,"height":178.5,
"resolve":{"axis":{"x":"independent","y":"independent"}},
"layer":[
{"data":{"name":"vgrid"},"mark":{"type":"rect","clip":true,"strokeWidth":0.6},"encoding":{
"x":{"field":"c","type":"quantitative","scale":{"domain":[140,180],"nice":false,"zero":false},"axis":{"values":[140,150,160,170,180],"title":null,"orient":"bottom","labelPadding":13}},"x2":{"field":"c2"},
"y":{"field":"z","type":"quantitative","scale":{"domain":[-5,0],"nice":false,"zero":false},"axis":{"values":[0,-1,-2,-3,-4,-5],"labelExpr":"datum.value+''","title":"Depth (m)","orient":"left","titlePadding":5}},"y2":{"field":"z2"},
"fill":{"field":"v","type":"quantitative","legend":null,"scale":{"domain":[-20.7,-15.7,-5.7,4.3,14.3,19.3],"range":["#00008b","#0000ff","#00ffff","#ffff00","#ff0000","#800000"],"interpolate":"rgb"}},
"stroke":{"field":"v","type":"quantitative","legend":null,"scale":{"domain":[-20.7,-15.7,-5.7,4.3,14.3,19.3],"range":["#00008b","#0000ff","#00ffff","#ffff00","#ff0000","#800000"],"interpolate":"rgb"}}}},
{"data":{"name":"bed"},"mark":{"type":"area","color":"white","clip":true},"encoding":{
"x":{"field":"c","type":"quantitative","axis":null},"y":{"field":"z","type":"quantitative","axis":null},"y2":{"datum":-5}}},
{"data":{"name":"vlines"},"mark":{"type":"line","color":"#1c3a2c","strokeWidth":1},"encoding":{
"x":{"field":"c","type":"quantitative","axis":null},"y":{"field":"z","type":"quantitative","axis":null},"detail":{"field":"k"},"order":{"field":"o"}}},
{"data":{"name":"stations"},"mark":{"type":"rule","color":"#111","strokeWidth":1},"encoding":{
"x":{"field":"c","type":"quantitative","axis":null},"x2":{"field":"e"},"y":{"field":"z","type":"quantitative","axis":null}}},
{"data":{"name":"zig"},"mark":{"type":"line","color":"#222","strokeWidth":0.7},"encoding":{
"x":{"field":"c","type":"quantitative","axis":null},"y":{"field":"z","type":"quantitative","axis":null},"order":{"field":"z","sort":"descending"}}},
{"data":{"name":"ends"},"mark":{"type":"point","filled":true,"color":"#111","opacity":1,"size":28},"encoding":{
"x":{"field":"c","type":"quantitative","axis":null},"y":{"field":"z","type":"quantitative","axis":null}}},
{"data":{"name":"stations"},"mark":{"type":"line","color":"#111","strokeWidth":1},"encoding":{
"x":{"field":"c","type":"quantitative","axis":{"orient":"top","values":[150,160,170],"labels":false,"title":null}},
"y":{"field":"z","type":"quantitative","axis":{"orient":"right","values":[-1,-2,-3,-4],"labels":false,"title":null}},"detail":{"field":"st"},"order":{"field":"z","sort":"descending"}}}
]},
{"width":37,"height":178.5,"view":{"stroke":"#444"},"data":{"name":"rampV"},"mark":{"type":"rect","strokeWidth":0.6},"encoding":{
"x":{"datum":0,"type":"quantitative","scale":{"domain":[0,1],"nice":false},"axis":null},"x2":{"datum":1},
"y":{"field":"v","type":"quantitative","scale":{"domain":[-20,20],"nice":false,"zero":false},"axis":{"orient":"right","values":[-20,-10,0,10,20],"labelExpr":"datum.value+''","title":"V (cms⁻¹)","titleAngle":270,"titleBaseline":"top","tickSize":-3,"labelPadding":6,"titlePadding":12,"domain":false}},"y2":{"field":"w"},
"fill":{"field":"v","type":"quantitative","legend":null,"scale":{"domain":[-20,-15,-5,5,15,20],"range":["#00008b","#0000ff","#00ffff","#ffff00","#ff0000","#800000"],"interpolate":"rgb"}},
"stroke":{"field":"v","type":"quantitative","legend":null,"scale":{"domain":[-20,-15,-5,5,15,20],"range":["#00008b","#0000ff","#00ffff","#ffff00","#ff0000","#800000"],"interpolate":"rgb"}}}},
{"width":424,"height":178.5,
"resolve":{"axis":{"x":"independent","y":"independent"}},
"layer":[
{"data":{"values":[{"c":140,"y":1},{"c":180,"y":1}]},"mark":{"type":"line","color":"#5a5a90","strokeWidth":1.5,"strokeDash":[11,7]},"encoding":{
"x":{"field":"c","type":"quantitative","scale":{"domain":[140,180],"nice":false,"zero":false},"axis":{"values":[140,150,160,170,180],"title":"Cells from south end","titlePadding":4,"orient":"bottom","labelPadding":13}},
"y":{"field":"y","type":"quantitative","scale":{"domain":[0,20],"nice":false},"axis":{"values":[0,5,10,15,20],"title":"G²,F₁²,F₂²","orient":"left","titlePadding":5}}}},
{"data":{"name":"series"},"mark":{"type":"line","strokeWidth":2,"clip":true},"encoding":{
"x":{"field":"c","type":"quantitative","axis":{"orient":"top","values":[150,160,170],"labels":false,"title":null}},
"y":{"field":"y","type":"quantitative","axis":{"orient":"right","values":[5,10,15],"labels":false,"title":null}},
"color":{"field":"s","type":"nominal","legend":null,"sort":["G","F1","F2"],"scale":{"domain":["G","F1","F2"],"range":["#1010b0","#1a7a1a","#d01010"]}}}}
]},
{"width":37,"height":178.5,"view":{"stroke":"#444"},"data":{"name":"rampV"},"mark":{"type":"rect","strokeWidth":0.6},"encoding":{
"x":{"datum":0,"type":"quantitative","scale":{"domain":[0,1],"nice":false},"axis":null},"x2":{"datum":1},
"y":{"field":"v","type":"quantitative","scale":{"domain":[-20,20],"nice":false,"zero":false},"axis":null},"y2":{"field":"w"},
"fill":{"field":"v","type":"quantitative","legend":null,"scale":{"domain":[-20,-15,-5,5,15,20],"range":["#00008b","#0000ff","#00ffff","#ffff00","#ff0000","#800000"],"interpolate":"rgb"}},
"stroke":{"field":"v","type":"quantitative","legend":null,"scale":{"domain":[-20,-15,-5,5,15,20],"range":["#00008b","#0000ff","#00ffff","#ffff00","#ff0000","#800000"],"interpolate":"rgb"}}}}
],"columns":2,"bounds":"flush","spacing":{"row":59,"column":25},"resolve":{"scale":{"color":"independent","fill":"independent","stroke":"independent"}}},
{"width":201,"height":725,"data":{"values":[{"label":"band"}]},"mark":{"type":"rect","color":{"gradient":"linear","x1":0,"y1":0,"x2":0,"y2":1,"stops":[{"offset":0,"color":"#141450"},{"offset":1,"color":"#3434c8"}]}},
"encoding":{"x":{"datum":9,"type":"quantitative","scale":{"domain":[0,201],"nice":false},"axis":null},"x2":{"datum":201},"y":{"datum":0,"type":"quantitative","scale":{"domain":[43,768],"reverse":true,"nice":false,"zero":false},"axis":null},"y2":{"datum":768}}}
]}
